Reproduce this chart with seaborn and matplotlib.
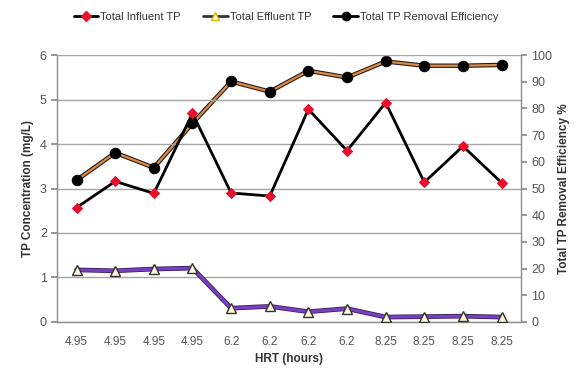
import matplotlib
matplotlib.use("Agg")
import matplotlib.pyplot as plt
import matplotlib.patheffects as pe
from matplotlib.lines import Line2D
import seaborn as sns
import pandas as pd
import numpy as np

# HRT categories (hours) for each sampling run
hrt_labels = ["4.95", "4.95", "4.95", "4.95", "6.2", "6.2", "6.2", "6.2",
              "8.25", "8.25", "8.25", "8.25"]
# Total phosphorus concentrations (mg/L)
influent_tp = [2.57, 3.16, 2.89, 4.69, 2.90, 2.83, 4.78, 3.85, 4.93, 3.14, 3.95, 3.13]
effluent_tp = [1.17, 1.15, 1.19, 1.21, 0.31, 0.35, 0.23, 0.30, 0.11, 0.12, 0.13, 0.11]
# Total TP removal efficiency (%)
removal_eff = [53.1, 63.4, 57.8, 74.4, 90.1, 86.3, 94.1, 91.6, 97.6, 96.0, 96.0, 96.3]

pos = np.arange(len(hrt_labels))
df = pd.DataFrame({"pos": pos, "influent": influent_tp,
                   "effluent": effluent_tp, "eff": removal_eff})

sns.set_theme(style="white")
plt.rcParams["font.family"] = ["Liberation Sans", "DejaVu Sans"]

fig = plt.figure(figsize=(5.84, 3.77), dpi=100)
ax = fig.add_axes([0.098, 0.146, 0.794, 0.708])
ax2 = ax.twinx()

grey = "#8c8c8c"
tick_col = "#555555"

# Influent: black line with red diamonds
sns.lineplot(data=df, x="pos", y="influent", ax=ax, color="black", lw=2.0,
             marker="D", markersize=5.5, markerfacecolor="#e8102a",
             markeredgecolor="#e8102a", zorder=4)

# Effluent: outlined purple line, then pale triangles on top
sns.lineplot(data=df, x="pos", y="effluent", ax=ax, color="#7a3fc0", lw=2.2,
             zorder=4,
             path_effects=[pe.Stroke(linewidth=3.4, foreground="#3a1f5c"), pe.Normal()])
sns.lineplot(data=df, x="pos", y="effluent", ax=ax, linestyle="",
             marker="^", markersize=7.5, markerfacecolor="#fdf7d8",
             markeredgecolor="#333333", markeredgewidth=1.0, zorder=5)

# Removal efficiency on the secondary axis: outlined tan line, black dots
sns.lineplot(data=df, x="pos", y="eff", ax=ax2, color="#d98b4a", lw=1.6,
             zorder=4,
             path_effects=[pe.Stroke(linewidth=3.2, foreground="#2b1a10"), pe.Normal()])
sns.lineplot(data=df, x="pos", y="eff", ax=ax2, linestyle="",
             marker="o", markersize=7.5, markerfacecolor="black",
             markeredgecolor="black", zorder=5)

ax.set_xlim(-0.5, len(hrt_labels) - 0.5)
ax.set_ylim(0, 6)
ax2.set_ylim(0, 100)
ax.set_yticks(range(0, 7))
ax2.set_yticks(range(0, 101, 10))
ax.set_xticks(pos)
ax.set_xticklabels(hrt_labels)
ax.set_xticks(np.arange(-0.5, len(hrt_labels)), minor=True)

ax.grid(axis="y", color="#a5a5a5", lw=1.0)
ax.set_axisbelow(True)
ax.set_zorder(ax2.get_zorder() + 1)
ax.patch.set_visible(False)

for a in (ax, ax2):
    for s in a.spines.values():
        s.set_visible(False)
ax.spines["left"].set_visible(True)
ax.spines["bottom"].set_visible(True)
ax2.spines["right"].set_visible(True)
for s in (ax.spines["left"], ax.spines["bottom"], ax2.spines["right"]):
    s.set_color(grey)
    s.set_linewidth(1.0)

ax.tick_params(axis="x", which="major", length=0, labelsize=8.5,
               labelcolor=tick_col, pad=10)
ax.tick_params(axis="x", which="minor", length=6, direction="inout",
               color=grey, width=1)
ax.tick_params(axis="y", length=4, direction="out", color=grey,
               labelsize=9, labelcolor=tick_col, left=True)
ax2.tick_params(axis="y", length=4, direction="out", color=grey,
                labelsize=9, labelcolor=tick_col, right=True)

ax.set_xlabel("HRT (hours)", fontsize=8.5, fontweight="bold", color="#333333")
ax.set_ylabel("TP Concentration (mg/L)", fontsize=8.5, fontweight="bold",
              color="#333333")
ax2.set_ylabel("Total TP Removal Efficiency %", fontsize=8.5,
               fontweight="bold", color="#333333")

handles = [
    Line2D([], [], color="black", lw=2, marker="D", markersize=5,
           markerfacecolor="#e8102a", markeredgecolor="#e8102a"),
    Line2D([], [], color="#333333", lw=2, marker="^", markersize=6,
           markerfacecolor="#fdf7d8", markeredgecolor="#d9b400"),
    Line2D([], [], color="black", lw=2, marker="o", markersize=6,
           markerfacecolor="black", markeredgecolor="black"),
]
labels = ["Total Influent TP", "Total Effluent TP", "Total TP Removal Efficiency"]
fig.legend(handles, labels, loc="center", bbox_to_anchor=(0.49, 0.955),
           ncol=3, frameon=False, fontsize=8, handlelength=2.2,
           handletextpad=0.2, columnspacing=2.0, labelcolor="#333333")

fig.savefig("out.png", dpi=100)
